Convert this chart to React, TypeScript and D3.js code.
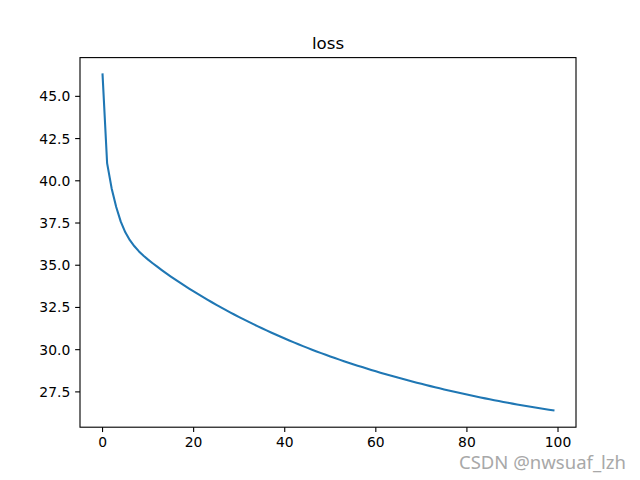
import React from "react";
import * as d3 from "d3";

const epochs: number[] = Array.from({ length: 100 }, (_, i) => i);
const lossValues: number[] = [
  46.3, 41.05, 39.55, 38.45, 37.58, 36.95, 36.48, 36.12, 35.82, 35.56,
  35.33, 35.12, 34.915, 34.715, 34.52, 34.33, 34.145, 33.965, 33.79, 33.618,
  33.45, 33.285, 33.123, 32.964, 32.808, 32.655, 32.505, 32.358, 32.213, 32.07,
  31.93, 31.792, 31.657, 31.524, 31.394, 31.266, 31.14, 31.017, 30.896, 30.777,
  30.66, 30.545, 30.432, 30.321, 30.212, 30.105, 30.0, 29.897, 29.796, 29.697,
  29.6, 29.505, 29.411, 29.319, 29.229, 29.14, 29.053, 28.968, 28.884, 28.802,
  28.72, 28.64, 28.561, 28.483, 28.407, 28.332, 28.258, 28.186, 28.115, 28.045,
  27.976, 27.908, 27.841, 27.775, 27.71, 27.646, 27.583, 27.521, 27.46, 27.4,
  27.341, 27.283, 27.226, 27.17, 27.115, 27.061, 27.008, 26.956, 26.905, 26.855,
  26.806, 26.758, 26.711, 26.665, 26.62, 26.576, 26.532, 26.489, 26.446, 26.404,
];
const xTicks: number[] = [0, 20, 40, 60, 80, 100];
const yTicks: number[] = [27.5, 30.0, 32.5, 35.0, 37.5, 40.0, 42.5, 45.0];
const titleText = "loss";
const watermark = "CSDN @nwsuaf_lzh";

const W = 640;
const H = 480;
const left = 80;
const right = 576;
const top = 57.6;
const bottom = 427.2;
const font = "DejaVu Sans, sans-serif";

export default function App() {
  const [x0, x1] = d3.extent(epochs) as [number, number];
  const xm = (x1 - x0) * 0.05;
  const [y0, y1] = d3.extent(lossValues) as [number, number];
  const ym = (y1 - y0) * 0.05;
  const x = d3.scaleLinear().domain([x0 - xm, x1 + xm]).range([left, right]);
  const y = d3.scaleLinear().domain([y0 - ym, y1 + ym]).range([bottom, top]);
  const line = d3
    .line<number>()
    .x((_, i) => x(epochs[i]))
    .y((d) => y(d));
  const tickLen = 4.86;
  const pad = 4.86;
  return (
    <svg
      width={W}
      height={H}
      style={{ position: "absolute", left: 0, top: 0, background: "#fff" }}
    >
      <rect x={0} y={0} width={W} height={H} fill="#fff" />
      <path
        d={line(lossValues) || ""}
        fill="none"
        stroke="#1f77b4"
        strokeWidth={2.08}
        strokeLinejoin="round"
        strokeLinecap="square"
      />
      <rect
        x={left}
        y={top}
        width={right - left}
        height={bottom - top}
        fill="none"
        stroke="#000"
        strokeWidth={1.11}
      />
      {xTicks.map((t) => (
        <g key={"x" + t}>
          <line
            x1={x(t)}
            x2={x(t)}
            y1={bottom}
            y2={bottom + tickLen}
            stroke="#000"
            strokeWidth={1.11}
          />
          <text
            x={x(t)}
            y={bottom + tickLen + pad}
            dy="0.76em"
            textAnchor="middle"
            fontFamily={font}
            fontSize={13.89}
            fill="#000"
          >
            {d3.format("d")(t)}
          </text>
        </g>
      ))}
      {yTicks.map((t) => (
        <g key={"y" + t}>
          <line
            x1={left - tickLen}
            x2={left}
            y1={y(t)}
            y2={y(t)}
            stroke="#000"
            strokeWidth={1.11}
          />
          <text
            x={left - tickLen - pad}
            y={y(t)}
            dy="0.36em"
            textAnchor="end"
            fontFamily={font}
            fontSize={13.89}
            fill="#000"
          >
            {d3.format(".1f")(t)}
          </text>
        </g>
      ))}
      <text
        x={(left + right) / 2}
        y={top - 8.33}
        textAnchor="middle"
        fontFamily={font}
        fontSize={16.67}
        fill="#000"
      >
        {titleText}
      </text>
      <text
        x={626}
        y={469}
        textAnchor="end"
        fontFamily="Noto Sans, sans-serif"
        fontSize={18.5}
        fill="#a8a8a8"
      >
        {watermark}
      </text>
    </svg>
  );
}
